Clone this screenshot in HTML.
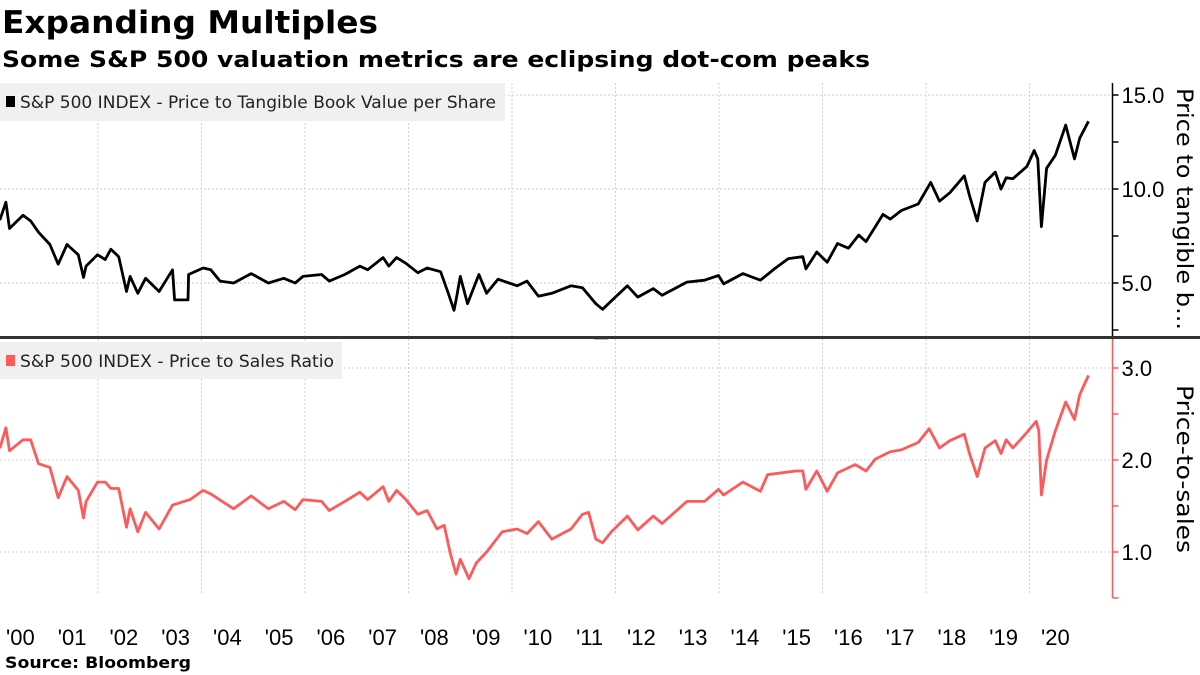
<!DOCTYPE html>
<html><head><meta charset="utf-8">
<style>
html,body{margin:0;padding:0;background:#fff;}
svg{display:block;}
text{font-family:"DejaVu Sans","Liberation Sans",sans-serif;}
.tk{font-family:"Liberation Sans","DejaVu Sans",sans-serif;}
</style></head>
<body>
<svg id="chart" width="1200" height="675" viewBox="0 0 1200 675" xmlns="http://www.w3.org/2000/svg">
<text x="2" y="33" font-size="31" font-weight="bold" fill="#000" textLength="376" lengthAdjust="spacingAndGlyphs">Expanding Multiples</text>
<text x="2" y="67" font-size="22" font-weight="bold" fill="#000" textLength="868" lengthAdjust="spacingAndGlyphs">Some S&amp;P 500 valuation metrics are eclipsing dot-com peaks</text>
<g id="grid"></g>
<g id="series"></g>
<rect x="0" y="83" width="505" height="38" fill="#f0f0f0"/>
<rect x="6" y="96" width="9" height="11" fill="#000"/>
<text x="20" y="108" font-size="16.5" fill="#222" textLength="476" lengthAdjust="spacingAndGlyphs">S&amp;P 500 INDEX - Price to Tangible Book Value per Share</text>
<rect x="0" y="342" width="342" height="37" fill="#f0f0f0"/>
<rect x="6" y="355" width="9" height="11" fill="#ff5a5a"/>
<text x="20" y="367" font-size="16.5" fill="#222" textLength="314" lengthAdjust="spacingAndGlyphs">S&amp;P 500 INDEX - Price to Sales Ratio</text>
<rect x="0" y="336" width="1200" height="3" fill="#333"/>
<line x1="594" y1="339.5" x2="608" y2="339.5" stroke="#aaa" stroke-width="0.8"/>
<g id="axes"></g>
<text transform="translate(1177,88) rotate(90)" font-size="22" fill="#000" textLength="242" lengthAdjust="spacingAndGlyphs">Price to tangible b...</text>
<text transform="translate(1177,385) rotate(90)" font-size="22" fill="#000" textLength="168" lengthAdjust="spacingAndGlyphs">Price-to-sales</text>
<text x="5" y="668" font-size="16" font-weight="bold" fill="#000" textLength="186" lengthAdjust="spacingAndGlyphs">Source: Bloomberg</text>
</svg>
<script>
const ptbvDates=[2000.0,2000.11,2000.22,2000.29,2000.55,2000.70,2000.85,2001.07,2001.23,2001.40,2001.62,2001.72,2001.77,2001.99,2002.14,2002.25,2002.40,2002.55,2002.62,2002.77,2002.92,2003.18,2003.44,2003.48,2003.74,2003.75,2004.03,2004.18,2004.36,2004.62,2004.96,2005.29,2005.59,2005.81,2005.96,2006.32,2006.47,2006.77,2007.06,2007.21,2007.51,2007.62,2007.77,2007.95,2008.18,2008.36,2008.62,2008.77,2008.88,2008.92,2009.0,2009.14,2009.36,2009.51,2009.73,2010.10,2010.29,2010.51,2010.77,2011.14,2011.36,2011.62,2011.75,2011.92,2012.23,2012.43,2012.73,2012.90,2013.38,2013.72,2013.99,2014.09,2014.46,2014.80,2015.07,2015.34,2015.62,2015.68,2015.89,2016.09,2016.29,2016.50,2016.70,2016.84,2017.17,2017.31,2017.52,2017.85,2018.09,2018.26,2018.46,2018.74,2018.84,2018.99,2019.14,2019.34,2019.45,2019.55,2019.68,2019.95,2020.09,2020.16,2020.23,2020.33,2020.50,2020.70,2020.87,2020.97,2021.14];
const ptbvValues=[8.5,8.4,9.3,7.9,8.6,8.3,7.7,7.05,6.0,7.05,6.5,5.3,5.9,6.5,6.25,6.8,6.4,4.55,5.35,4.45,5.25,4.55,5.7,4.1,4.1,5.45,5.8,5.7,5.1,5.0,5.5,5.0,5.25,5.0,5.35,5.45,5.1,5.45,5.9,5.7,6.35,5.9,6.35,6.05,5.55,5.8,5.6,4.45,3.55,4.1,5.35,3.9,5.45,4.45,5.2,4.85,5.1,4.3,4.45,4.85,4.75,3.9,3.6,4.05,4.85,4.25,4.7,4.35,5.05,5.15,5.4,4.95,5.5,5.15,5.75,6.3,6.4,5.75,6.65,6.1,7.1,6.85,7.55,7.2,8.65,8.4,8.85,9.2,10.35,9.35,9.8,10.7,9.65,8.3,10.35,10.9,10.0,10.6,10.55,11.2,12.05,11.6,8.0,11.1,11.8,13.4,11.6,12.7,13.6];
const psDates=[2000.0,2000.11,2000.22,2000.29,2000.55,2000.70,2000.85,2001.07,2001.23,2001.40,2001.62,2001.72,2001.77,2001.99,2002.14,2002.25,2002.40,2002.55,2002.62,2002.77,2002.92,2003.18,2003.44,2003.78,2004.03,2004.18,2004.62,2004.96,2005.29,2005.59,2005.81,2005.96,2006.32,2006.47,2006.77,2007.06,2007.21,2007.51,2007.62,2007.77,2007.95,2008.18,2008.36,2008.55,2008.69,2008.81,2008.92,2009.0,2009.17,2009.31,2009.51,2009.81,2010.10,2010.29,2010.51,2010.77,2011.14,2011.36,2011.48,2011.62,2011.75,2011.92,2012.23,2012.43,2012.73,2012.90,2013.38,2013.72,2013.99,2014.09,2014.46,2014.80,2014.94,2015.48,2015.62,2015.68,2015.89,2016.09,2016.29,2016.63,2016.84,2017.02,2017.31,2017.52,2017.85,2018.06,2018.26,2018.46,2018.74,2018.84,2018.99,2019.14,2019.34,2019.45,2019.55,2019.68,2019.95,2020.13,2020.18,2020.23,2020.33,2020.50,2020.70,2020.87,2020.97,2021.14];
const psValues=[2.18,2.14,2.35,2.1,2.22,2.22,1.96,1.92,1.59,1.82,1.67,1.37,1.55,1.76,1.76,1.69,1.69,1.27,1.47,1.22,1.43,1.25,1.51,1.57,1.67,1.63,1.47,1.61,1.47,1.55,1.46,1.57,1.55,1.45,1.55,1.65,1.57,1.71,1.55,1.67,1.57,1.41,1.45,1.25,1.29,0.98,0.76,0.92,0.71,0.88,1.0,1.22,1.25,1.2,1.33,1.14,1.25,1.41,1.43,1.14,1.1,1.22,1.39,1.24,1.39,1.31,1.55,1.55,1.68,1.62,1.76,1.66,1.84,1.88,1.88,1.68,1.88,1.66,1.86,1.95,1.88,2.01,2.09,2.11,2.19,2.34,2.13,2.21,2.28,2.07,1.82,2.13,2.21,2.07,2.22,2.13,2.3,2.42,2.32,1.62,2.0,2.32,2.63,2.44,2.71,2.92];
const yearLabels=["'00","'01","'02","'03","'04","'05","'06","'07","'08","'09","'10","'11","'12","'13","'14","'15","'16","'17","'18","'19","'20"];
const topTicks=[2.5,5.0,7.5,10.0,12.5,15.0];
const topTickLabels=["","5.0","","10.0","","15.0"];
const botTicks=[0.5,1.0,1.5,2.0,2.5,3.0];
const botTickLabels=["","1.0","","2.0","","3.0"];

const NS="http://www.w3.org/2000/svg";
function xOf(t){return 98+51.75*(t-2002);}
function yTop(v){return 95+(15-v)*18.8;}
function yBot(v){return 368+(3-v)*92;}
function mk(tag,attrs,parent){const e=document.createElementNS(NS,tag);for(const k in attrs)e.setAttribute(k,attrs[k]);parent.appendChild(e);return e;}
const grid=document.getElementById('grid'),ser=document.getElementById('series'),axes=document.getElementById('axes');
const AX=1112.5;
for(let yr=2002;yr<=2020;yr+=2){
  const l=mk('line',{x1:xOf(yr),x2:xOf(yr),y1:83,y2:595,stroke:'#cfcfcf','stroke-width':1,'stroke-dasharray':'2,2'},grid);
  
  
}
topTicks.forEach((v,i)=>{
  if(topTickLabels[i]){
    const g=mk('line',{x1:0,x2:AX,y1:yTop(v),y2:yTop(v),stroke:'#cfcfcf','stroke-width':1,'stroke-dasharray':'2,2'},grid);
    
    
  }
  const t=mk('line',{x1:AX,x2:AX+6,y1:yTop(v),y2:yTop(v),stroke:'#000','stroke-width':1.5},axes);
  
  
  if(topTickLabels[i]){
    const tx=mk('text',{x:AX+9,y:yTop(v)+8,'font-size':22,fill:'#000','class':'tk'},axes);
    tx.textContent=topTickLabels[i];
    
    
  }
});
botTicks.forEach((v,i)=>{
  if(botTickLabels[i]){
    const g=mk('line',{x1:0,x2:AX,y1:yBot(v),y2:yBot(v),stroke:'#cfcfcf','stroke-width':1,'stroke-dasharray':'2,2'},grid);
    
    
  }
  const t=mk('line',{x1:AX,x2:AX+6,y1:yBot(v),y2:yBot(v),stroke:'#ff5a5a','stroke-width':1.5},axes);
  
  
  if(botTickLabels[i]){
    const tx=mk('text',{x:AX+9,y:yBot(v)+8,'font-size':22,fill:'#000','class':'tk'},axes);
    tx.textContent=botTickLabels[i];
    
    
  }
});
const axT=mk('line',{x1:AX,x2:AX,y1:83,y2:336,stroke:'#000','stroke-width':1.5},axes);


const axB=mk('line',{x1:AX,x2:AX,y1:339,y2:598,stroke:'#ff5a5a','stroke-width':1.5},axes);


yearLabels.forEach((lab,i)=>{
  const tx=mk('text',{x:xOf(2000+i+0.5),y:645,'font-size':22,fill:'#000','text-anchor':'middle','class':'tk'},axes);
  tx.textContent=lab;
  
  
});
function path(dates,vals,yf){return dates.map((d,i)=>(i?'L':'M')+xOf(d).toFixed(1)+','+yf(vals[i]).toFixed(1)).join('');}
const p1=mk('path',{d:path(ptbvDates,ptbvValues,yTop),fill:'none',stroke:'#000','stroke-width':2.8,'stroke-linejoin':'round'},ser);


const p2=mk('path',{d:path(psDates,psValues,yBot),fill:'none',stroke:'#ff5a5a','stroke-width':2.8,'stroke-linejoin':'round'},ser);


</script>
</body></html>
